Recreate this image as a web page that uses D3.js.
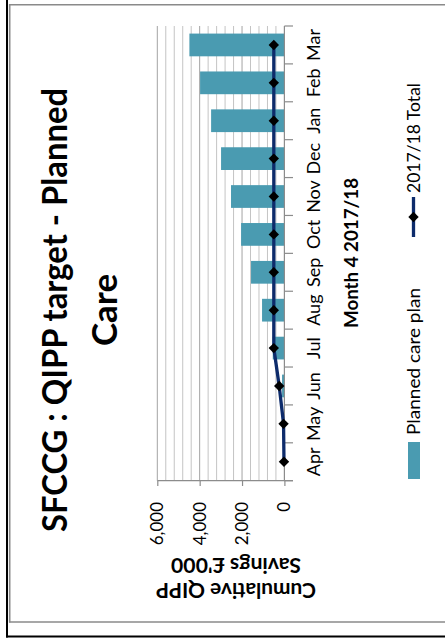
<!DOCTYPE html>
<html>
<head>
<meta charset="utf-8">
<script src="https://cdn.jsdelivr.net/npm/d3@7"></script>
<style>
  html, body { margin: 0; padding: 0; background: #fff; }
  svg { display: block; }
  text { font-family: Lato, "Open Sans", sans-serif; fill: #000; }
</style>
</head>
<body>
<div id="chart"></div>
<script>
// ---- data ----
const months = ["Apr", "May", "Jun", "Jul", "Aug", "Sep", "Oct", "Nov", "Dec", "Jan", "Feb", "Mar"];
const planValues = [0, 0, 110, 550, 1055, 1575, 2045, 2520, 2990, 3460, 3980, 4485];
const totalValues = [20, 40, 245, 500, 500, 500, 500, 500, 500, 500, 500, 500];
const valueTicks = [0, 2000, 4000, 6000];
const gridStep = 400;
const titleLines = ["SFCCG : QIPP target - Planned", "Care"];
const valueAxisTitle = ["Cumulative QIPP", "Savings £'000"];
const categoryAxisTitle = "Month 4 2017/18";
const seriesNames = ["Planned care plan", "2017/18 Total"];

// ---- page ----
const PW = 445, PH = 641;
const svg = d3.select("#chart").append("svg").attr("width", PW).attr("height", PH);

// frame lines (page coordinates)
svg.append("line").attr("x1", 9.7).attr("y1", 4.8).attr("x2", PW).attr("y2", 4.8)
  .attr("stroke", "#8a8a8a").attr("stroke-width", 1.6);
svg.append("line").attr("x1", 9.7).attr("y1", 4).attr("x2", 9.7).attr("y2", 622.5)
  .attr("stroke", "#8a8a8a").attr("stroke-width", 1.6);
svg.append("line").attr("x1", 9).attr("y1", 622).attr("x2", PW).attr("y2", 622)
  .attr("stroke", "#8a8a8a").attr("stroke-width", 1.6);
svg.append("line").attr("x1", 7).attr("y1", 0).attr("x2", 7).attr("y2", 637.5)
  .attr("stroke", "#000").attr("stroke-width", 2);
svg.append("line").attr("x1", 6).attr("y1", 636.5).attr("x2", PW).attr("y2", 636.5)
  .attr("stroke", "#000").attr("stroke-width", 2);

// chart drawn in its original landscape frame, then rotated -90deg
const g = svg.append("g").attr("transform", `translate(0,${PH}) rotate(-90)`);

const x = d3.scaleBand().domain(months).range([160.3, 615]).paddingInner(0.4).paddingOuter(0.2);
const y = d3.scaleLinear().domain([0, 6000]).range([284.4, 157.3]);

// gridlines
const grid = d3.range(gridStep, 6000 + 1, gridStep);
g.append("g").selectAll("line").data(grid).join("line")
  .attr("x1", 160.3).attr("x2", 615)
  .attr("y1", d => y(d)).attr("y2", d => y(d))
  .attr("stroke", d => d % 2000 === 0 ? "#a3a3a3" : "#c4c4c4")
  .attr("stroke-width", 1);

// bars
g.append("g").selectAll("rect").data(months).join("rect")
  .attr("x", d => x(d))
  .attr("width", x.bandwidth())
  .attr("y", (d, i) => y(planValues[i]))
  .attr("height", (d, i) => y(0) - y(planValues[i]))
  .attr("fill", "#4a9bb1");

// category axis
const catAxis = d3.axisBottom(x).tickSize(0).tickPadding(0);
const cax = g.append("g").attr("transform", `translate(0,${y(0)})`).call(catAxis);
cax.select(".domain").remove();
cax.selectAll("text").attr("font-size", 18).attr("dy", null).attr("y", 36)
  .style("font-family", "Lato");
cax.append("line").attr("x1", 160.3).attr("x2", 615).attr("y1", 0).attr("y2", 0)
  .attr("stroke", "#8c8c8c").attr("stroke-width", 1.2);
const boundaries = months.map(m => x(m) - x.step() * x.paddingInner() / 2).concat([615]);
cax.selectAll("line.btick").data(boundaries).join("line").attr("class", "btick")
  .attr("x1", d => d).attr("x2", d => d).attr("y1", 0).attr("y2", 8.6)
  .attr("stroke", "#8c8c8c").attr("stroke-width", 1.2);

// value axis
const valAxis = d3.axisLeft(y).tickValues(valueTicks).tickSize(5.3).tickPadding(16)
  .tickFormat(d3.format(","));
const vax = g.append("g").attr("transform", "translate(160.3,0)").call(valAxis);
vax.select(".domain").remove();
vax.selectAll(".tick line").attr("stroke", "#8c8c8c").attr("stroke-width", 1.2);
vax.selectAll("text").attr("font-size", 17).style("font-family", "Lato").attr("fill", "#000");
vax.append("line").attr("x1", 0).attr("x2", 0).attr("y1", y(6000)).attr("y2", 293)
  .attr("stroke", "#8c8c8c").attr("stroke-width", 1.2);

// line series
const lineGen = d3.line().x((d, i) => x(months[i]) + x.bandwidth() / 2).y(d => y(d));
g.append("path").datum(totalValues).attr("d", lineGen)
  .attr("fill", "none").attr("stroke", "#0d2b6b").attr("stroke-width", 3.3)
  .attr("stroke-linejoin", "round");
const diamond = "M0,-5.2L5.2,0L0,5.2L-5.2,0Z";
g.append("g").selectAll("path").data(totalValues).join("path")
  .attr("d", diamond)
  .attr("transform", (d, i) => `translate(${x(months[i]) + x.bandwidth() / 2},${y(d)})`)
  .attr("fill", "#000");

// title
g.append("text").attr("x", 331).attr("y", 67).attr("text-anchor", "middle")
  .attr("font-size", 35).attr("font-weight", "bold")
  .attr("textLength", 444).attr("lengthAdjust", "spacingAndGlyphs")
  .text(titleLines[0]);
g.append("text").attr("x", 331).attr("y", 117).attr("text-anchor", "middle")
  .attr("font-size", 35).attr("font-weight", "bold")
  .text(titleLines[1]);

// value axis title (rotated in the landscape frame)
[[58, 160], [83, 130]].forEach(([bx, len], i) => {
  g.append("text").attr("transform", `translate(${bx},236) rotate(-90)`)
    .attr("text-anchor", "middle").attr("font-size", 20).attr("font-weight", "bold")
    .attr("textLength", len).attr("lengthAdjust", "spacingAndGlyphs")
    .text(valueAxisTitle[i]);
});

// category axis title
g.append("text").attr("x", 388).attr("y", 358).attr("text-anchor", "middle")
  .attr("font-size", 19).attr("font-weight", "bold")
  .attr("textLength", 150).attr("lengthAdjust", "spacingAndGlyphs")
  .text(categoryAxisTitle);

// legend
const lg = g.append("g");
lg.append("rect").attr("x", 162).attr("y", 408).attr("width", 37).attr("height", 12).attr("fill", "#4a9bb1");
lg.append("text").attr("x", 206).attr("y", 420).attr("font-size", 18)
  .attr("textLength", 147).attr("lengthAdjust", "spacingAndGlyphs").text(seriesNames[0]);
lg.append("line").attr("x1", 404).attr("x2", 444).attr("y1", 413.5).attr("y2", 413.5)
  .attr("stroke", "#0d2b6b").attr("stroke-width", 3.3);
lg.append("path").attr("d", diamond).attr("transform", "translate(424,413.5)").attr("fill", "#000");
lg.append("text").attr("x", 448).attr("y", 420).attr("font-size", 18)
  .attr("textLength", 110).attr("lengthAdjust", "spacingAndGlyphs").text(seriesNames[1]);
</script>
</body>
</html>
